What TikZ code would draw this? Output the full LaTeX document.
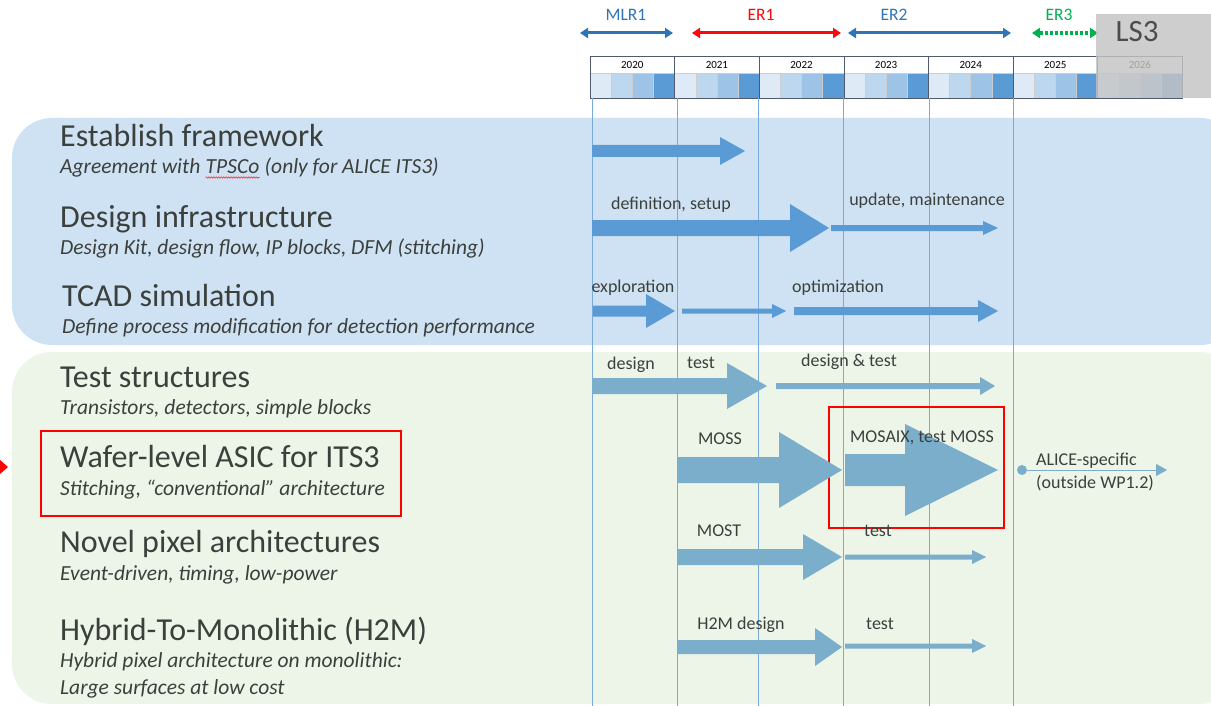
\documentclass[tikz,border=0pt]{standalone}
\usepackage{fontspec}
\setmainfont{Carlito}
\usetikzlibrary{arrows.meta,decorations.pathmorphing}

\definecolor{txt}{RGB}{60,64,60}
\definecolor{panelA}{RGB}{207,226,243}
\definecolor{panelB}{RGB}{237,244,232}
\definecolor{arrA}{RGB}{91,155,213}
\definecolor{arrB}{RGB}{122,174,203}
\definecolor{lineC}{RGB}{120,170,220}
\definecolor{phase}{RGB}{46,117,182}
\definecolor{erred}{RGB}{250,10,10}
\definecolor{ergreen}{RGB}{0,176,80}
\definecolor{qa}{RGB}{222,235,247}
\definecolor{qb}{RGB}{189,215,238}
\definecolor{qc}{RGB}{157,195,230}
\definecolor{qd}{RGB}{91,155,213}
\definecolor{frameC}{RGB}{80,90,110}
\definecolor{lsgray}{RGB}{196,196,196}

\newcommand{\subfont}{\fontsize{21.5}{24}\itshape}

% block arrow: colour, x start, x tip, y, half shaft, half head, head length
\newcommand{\blockarrow}[7]{%
  \fill[#1] (#2,#4-#5) -- (#3-#7,#4-#5) -- (#3-#7,#4-#6) -- (#3,#4)
    -- (#3-#7,#4+#6) -- (#3-#7,#4+#5) -- (#2,#4+#5) -- cycle;}

\tikzset{
  head/.style={anchor=base west, text=txt, font=\fontsize{32}{36}\selectfont, inner sep=0},
  sub/.style={anchor=base west, text=txt, font=\subfont, inner sep=0},
  lbl/.style={anchor=base, text=txt, font=\fontsize{18}{20}\selectfont, inner sep=0},
  phaselbl/.style={anchor=base, font=\fontsize{17.5}{20}\selectfont, inner sep=0},
  yearlbl/.style={anchor=base, text=black, font=\fontsize{11}{12}\selectfont, inner sep=0},
  phasearrow/.style={line width=3pt, {Triangle[length=8pt,width=10pt]}-{Triangle[length=8pt,width=10pt]}},
  gridline/.style={draw=lineC, line width=0.8pt},
  panel/.style={rounded corners=40pt},
  hl/.style={draw=red, line width=2pt},
  spellmark/.style={draw=red!85, line width=0.6pt, decorate,
    decoration={snake, amplitude=0.7pt, segment length=2.5pt}},
}

\begin{document}
\begin{tikzpicture}[x=1pt,y=-1pt]
\useasboundingbox (0,0) rectangle (1211,706);
\fill[white] (0,0) rectangle (1211,706);

% panels
\fill[panelA, panel] (12,118) rectangle (1240,345);
\fill[panelB, panel] (12,352) rectangle (1240,704);
\fill[white] (1211,100) rectangle (1250,706);

% phase arrows
\node[phaselbl, text=phase] (mlr) at (626,21) {MLR1};
\node[phaselbl, text=erred] (er1) at (761,21) {ER1};
\node[phaselbl, text=phase] (er2) at (894,21) {ER2};
\node[phaselbl, text=ergreen] (er3) at (1059,21) {ER3};
\coordinate (mlrA) at (580,33); \coordinate (mlrB) at (673,33);
\coordinate (er1A) at (692,33); \coordinate (er1B) at (841,33);
\coordinate (er2A) at (848,33); \coordinate (er2B) at (1011,33);
\coordinate (er3A) at (1032,33); \coordinate (er3B) at (1098,33);
\draw[phasearrow, draw=phase] (mlrA) -- (mlrB);
\draw[phasearrow, draw=erred] (er1A) -- (er1B);
\draw[phasearrow, draw=phase] (er2A) -- (er2B);
\draw[phasearrow, draw=ergreen, dotted, line width=3.2pt] (er3A) -- (er3B);

% year and quarter cells
\foreach \yr [count=\i from 0] in {2020,2021,2022,2023,2024,2025,2026} {
  \pgfmathsetmacro{\xa}{590+84.6*\i}
  \pgfmathsetmacro{\xb}{\xa+84.6}
  \draw[frameC, line width=0.6pt, fill=white] (\xa,56) rectangle (\xb,73);
  \node[yearlbl] (y\yr) at ({(\xa+\xb)/2},69) {\yr};
  \foreach \q/\c in {0/qa,1/qb,2/qc,3/qd} {
    \draw[fill=\c, draw=white!70!frameC, line width=0.5pt]
      ({\xa+21.15*\q},73) rectangle ({\xa+21.15*(\q+1)},98);
  }
  \draw[frameC, line width=0.6pt] (\xa,56) rectangle (\xb,98);
}
\fill[lsgray, opacity=0.82] (1096,14) rectangle (1211,98);
\node[anchor=base, text=black!70, font=\fontsize{31}{34}\selectfont, inner sep=0] (ls3) at (1137,42) {LS3};

% year boundaries
\foreach \x in {592,677,758,843,929,1013} {
  \draw[gridline] (\x,98) -- (\x,706);
}

% left column texts; the first subtitle is set in pieces so TPSCo can be marked
\node[head] (t1) at (60,147) {Establish framework};
\node[sub] (s1a) at (60,174) {Agreement with};
\node[sub] (s1b) at ([xshift=5pt]s1a.base east) {TPSCo};
\node[sub] (s1c) at ([xshift=5pt]s1b.base east) {(only for ALICE ITS3)};
\draw[spellmark] ([yshift=-3.5pt]s1b.base west) -- ([yshift=-3.5pt]s1b.base east);
\node[head] (t2) at (60,227) {Design infrastructure};
\node[sub] (s2) at (60,254) {Design Kit, design flow, IP blocks, DFM (stitching)};
\node[head] (t3) at (62,306) {TCAD simulation};
\node[sub] (s3) at (62,333) {Define process modification for detection performance};
\node[head] (t4) at (60,387) {Test structures};
\node[sub] (s4) at (60,414) {Transistors, detectors, simple blocks};
\node[head] (t5) at (60,467) {Wafer-level ASIC for ITS3};
\node[sub] (s5) at (60,495) {Stitching, “conventional” architecture};
\node[head] (t6) at (60,552) {Novel pixel architectures};
\node[sub] (s6) at (60,580) {Event-driven, timing, low-power};
\node[head] (t7) at (60,640) {Hybrid-To-Monolithic (H2M)};
\node[sub] (s7) at (60,667) {Hybrid pixel architecture on monolithic:};
\node[sub] (s8) at (60,694) {Large surfaces at low cost};

% highlight frames
\draw[hl] (41,431) rectangle (401,516);
\draw[hl] (829,407) rectangle (1004,528);
\fill[red] (0,460) -- (8,467) -- (0,474) -- cycle;

% framework rows
\blockarrow{arrA}{592}{745}{151}{6}{14}{25}
\blockarrow{arrA}{592}{829}{228}{8}{24}{39}
\blockarrow{arrA}{831}{998}{228}{3}{7}{15}
\blockarrow{arrA}{593}{675}{311}{5.5}{17}{29}
\blockarrow{arrA}{682}{786}{311}{2.5}{7}{14}
\blockarrow{arrA}{794}{998}{311}{4}{11}{20}
\node[lbl] (l1) at (671,210) {definition, setup};
\node[lbl] (l2) at (927,206) {update, maintenance};
\node[lbl] (l3) at (633,292) {exploration};
\node[lbl] (l4) at (838,292) {optimization};

% development rows
\blockarrow{arrB}{592}{767}{386}{8}{23}{40}
\blockarrow{arrB}{776}{995}{386}{3}{9}{15}
\blockarrow{arrB}{677}{842}{470}{13}{38}{63}
\blockarrow{arrB}{845}{998}{470}{16}{46}{93}
\blockarrow{arrB}{677}{842}{557}{8}{23}{39}
\blockarrow{arrB}{845}{986}{557}{2.5}{7}{14}
\blockarrow{arrB}{677}{842}{647}{7}{19}{27}
\blockarrow{arrB}{845}{986}{646}{2.5}{7}{14}
\node[lbl] (l5) at (631,369) {design};
\node[lbl] (l6) at (701,368) {test};
\node[lbl] (l7) at (849,366) {design \& test};
\node[lbl] (l8) at (720,444) {MOSS};
\node[lbl] (l9) at (922,442) {MOSAIX, test MOSS};
\node[lbl] (l10) at (719,536) {MOST};
\node[lbl] (l11) at (878,536) {test};
\node[lbl] (l12) at (741,629) {H2M design};
\node[lbl] (l13) at (880,629) {test};

% hand-over to ALICE
\node[circle, fill=arrB, inner sep=0, minimum size=10pt] (dot) at (1022,470) {};
\coordinate (aliceEnd) at (1167,470);
\draw[arrB, line width=1pt, -{Triangle[length=11pt,width=12pt]}] (dot) -- (aliceEnd);
\node[anchor=base west, text=txt, font=\fontsize{18}{20}\selectfont, inner sep=0] (al1) at (1036,465) {ALICE-specific};
\node[anchor=base west, text=txt, font=\fontsize{18}{20}\selectfont, inner sep=0] (al2) at (1036,488) {(outside WP1.2)};
\end{tikzpicture}
\end{document}
